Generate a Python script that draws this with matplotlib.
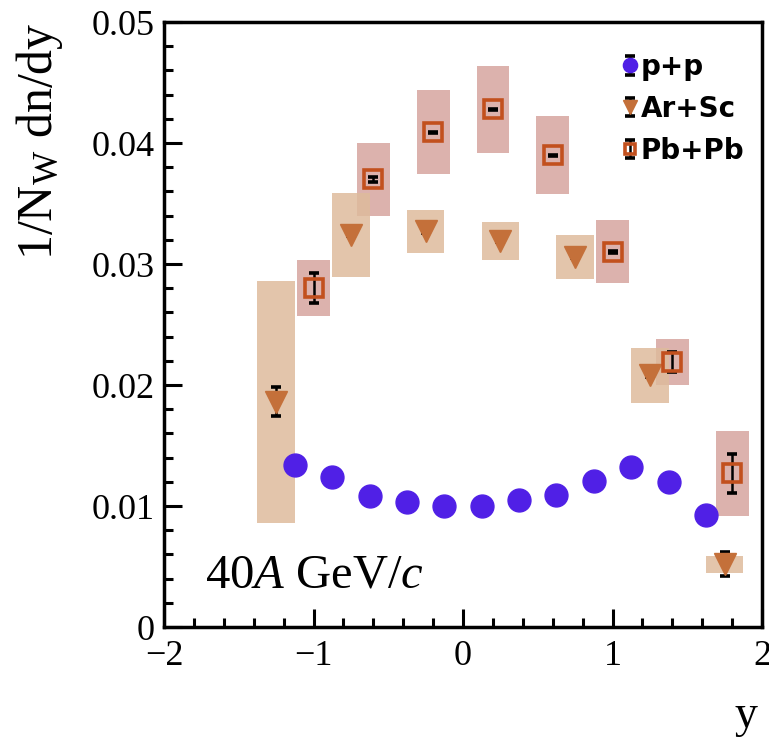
import matplotlib
matplotlib.use("Agg")
import matplotlib.pyplot as plt
from matplotlib.ticker import MultipleLocator
from matplotlib.legend_handler import HandlerErrorbar
from matplotlib.container import ErrorbarContainer

plt.rcParams['font.family'] = ['Liberation Serif', 'DejaVu Serif']
plt.rcParams['mathtext.fontset'] = 'custom'
plt.rcParams['mathtext.rm'] = 'Liberation Serif'
plt.rcParams['mathtext.it'] = 'Liberation Serif:italic'

# p+p
pp_y = [-1.125, -0.875, -0.625, -0.375, -0.125, 0.125, 0.375, 0.625, 0.875, 1.125, 1.375, 1.625]
pp_val = [0.0134, 0.0124, 0.0108, 0.0103, 0.0100, 0.0100, 0.0105, 0.0109, 0.0121, 0.0132, 0.0120, 0.0093]
pp_stat = [0.0002] * 12

# Ar+Sc
arsc_y = [-1.25, -0.75, -0.25, 0.25, 0.75, 1.25, 1.75]
arsc_val = [0.0186, 0.0324, 0.0327, 0.0319, 0.0306, 0.0208, 0.0052]
arsc_stat = [0.0012, 0.0001, 0.0001, 0.0001, 0.0001, 0.0001, 0.0010]
arsc_sys = [0.0100, 0.0035, 0.0018, 0.0016, 0.0018, 0.0023, 0.0007]

# Pb+Pb
pbpb_y = [-1.0, -0.6, -0.2, 0.2, 0.6, 1.0, 1.4, 1.8]
pbpb_val = [0.0280, 0.0370, 0.0409, 0.0428, 0.0390, 0.0310, 0.0219, 0.0127]
pbpb_stat = [0.00125, 0.0002, 0.00005, 0.00005, 0.00005, 0.00005, 0.0008, 0.0016]
pbpb_sys = [0.0023, 0.0030, 0.0035, 0.0036, 0.0032, 0.0026, 0.0019, 0.0035]

c_pp = '#5020E6'
c_ar = '#C4703A'
c_ar_box = '#DEBB9C'
c_pb = '#C2501E'
c_pb_box = '#D9AAA4'

fig = plt.figure(figsize=(7.69, 7.47), dpi=100)
ax = fig.add_axes([0.2133, 0.1606, 0.7777, 0.8099])

# systematic uncertainty boxes
ax.bar(pbpb_y, [2 * s for s in pbpb_sys], bottom=[v - s for v, s in zip(pbpb_val, pbpb_sys)],
       width=0.22, color=c_pb_box, alpha=0.9, edgecolor='none', zorder=1)
ax.bar(arsc_y, [2 * s for s in arsc_sys], bottom=[v - s for v, s in zip(arsc_val, arsc_sys)],
       width=0.25, color=c_ar_box, alpha=0.85, edgecolor='none', zorder=2)

eb_kw = dict(ecolor='black', elinewidth=1.8, capsize=3.5, capthick=2.6, linestyle='none', zorder=5)
h_pp = ax.errorbar(pp_y, pp_val, yerr=pp_stat, marker='o', ms=16.5, mfc=c_pp, mec=c_pp, **eb_kw)
h_ar = ax.errorbar(arsc_y, arsc_val, yerr=arsc_stat, marker='v', ms=16, mfc=c_ar, mec=c_ar, **eb_kw)
h_pb = ax.errorbar(pbpb_y, pbpb_val, yerr=pbpb_stat, marker='s', ms=12.5, mfc='none', mec=c_pb,
                   mew=2.6, **eb_kw)

ax.set_xlim(-2, 2)
ax.set_ylim(0, 0.05)
ax.xaxis.set_minor_locator(MultipleLocator(0.2))
ax.yaxis.set_minor_locator(MultipleLocator(0.002))
ax.set_xticks([-2, -1, 0, 1, 2])
ax.set_xticklabels(['\u22122', '\u22121', '0', '1', '2'])
ax.set_yticks([0, 0.01, 0.02, 0.03, 0.04, 0.05])
ax.set_yticklabels(['0', '0.01', '0.02', '0.03', '0.04', '0.05'])

for s in ax.spines.values():
    s.set_linewidth(2.5)
ax.tick_params(which='both', direction='in', top=False, right=False, width=2.2, labelsize=26)
ax.tick_params(which='major', length=13)
ax.tick_params(which='minor', length=6.5)
ax.tick_params(axis='x', pad=9)
ax.tick_params(axis='y', pad=7)

ax.set_ylabel(r'1/N$_{\mathrm{W}}$ dn/dy', fontsize=36)
ax.yaxis.set_label_coords(-0.166, 0.803)
ax.set_xlabel('y', fontsize=33)
ax.xaxis.set_label_coords(0.973, -0.112)

ax.text(0.069, 0.066, r'40$\mathit{A}$ GeV/$\mathit{c}$', transform=ax.transAxes,
        fontsize=35, ha='left', va='baseline')

leg = ax.legend([h_pp, h_ar, h_pb], ['p+p', 'Ar+Sc', 'Pb+Pb'], loc='upper right',
                bbox_to_anchor=(1.012, 0.99), frameon=False, markerscale=0.62,
                handlelength=0.55, handletextpad=0.1, labelspacing=0.5,
                handler_map={ErrorbarContainer: HandlerErrorbar(yerr_size=0.33)},
                prop={'family': 'DejaVu Sans', 'weight': 'bold', 'size': 20})

fig.savefig('out.png', dpi=100)
